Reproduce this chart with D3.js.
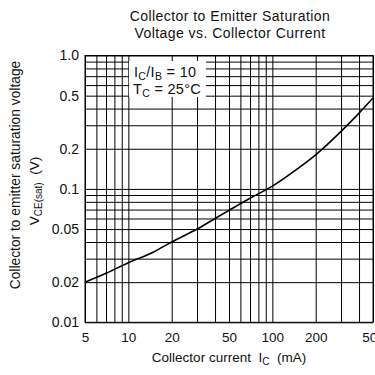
<!DOCTYPE html>
<html>
<head>
<meta charset="utf-8">
<script src="https://cdn.jsdelivr.net/npm/d3@7"></script>
<style>
  body { margin: 0; background: #fff; }
  svg { display: block; font-family: "Liberation Sans", Arial, sans-serif; }
</style>
</head>
<body>
<div id="chart"></div>
<script>
// collector current (mA) and V_CE(sat) (V)
const currentMA = [5, 7, 10, 15, 20, 30, 40, 50, 70, 100, 150, 200, 300, 400, 500];
const vceSat = [0.020, 0.0233, 0.028, 0.0337, 0.040, 0.050, 0.060, 0.069, 0.085, 0.105, 0.142, 0.18, 0.27, 0.37, 0.48];

const xGrid = [5, 6, 7, 8, 9, 10, 20, 30, 40, 50, 60, 70, 80, 90, 100, 200, 300, 400, 500];
const xTickLabels = [5, 10, 20, 50, 100, 200, 500];
const yGrid = [0.01, 0.02, 0.03, 0.04, 0.05, 0.06, 0.07, 0.08, 0.09, 0.1,
               0.2, 0.3, 0.4, 0.5, 0.6, 0.7, 0.8, 0.9, 1.0];
const yTickLabels = [0.01, 0.02, 0.05, 0.1, 0.2, 0.5, 1.0];

const W = 375, H = 375;
const margin = {top: 55.5, right: 2, bottom: 52.7, left: 85};
const width = W - margin.left - margin.right;
const height = H - margin.top - margin.bottom;
const ink = '#111';

const svg = d3.select('#chart').append('svg')
  .attr('width', W)
  .attr('height', H);

// title
const title = svg.append('text')
  .attr('text-anchor', 'middle')
  .attr('font-size', 14)
  .attr('letter-spacing', 0.45)
  .attr('fill', ink);
title.append('tspan').attr('x', 230).attr('y', 21).text('Collector to Emitter Saturation');
title.append('tspan').attr('x', 230).attr('y', 38).text('Voltage vs. Collector Current');

const g = svg.append('g')
  .attr('transform', `translate(${margin.left},${margin.top})`);

const x = d3.scaleLog().domain([5, 500]).range([0, width]);
const y = d3.scaleLog().domain([0.01, 1.0]).range([height, 0]);

// grid lines
g.append('g')
  .attr('class', 'grid-x')
  .attr('transform', `translate(0,${height})`)
  .call(d3.axisBottom(x).tickValues(xGrid).tickSize(-height).tickFormat(''))
  .call(s => s.select('.domain').remove())
  .selectAll('line').attr('stroke', '#000');

g.append('g')
  .attr('class', 'grid-y')
  .call(d3.axisLeft(y).tickValues(yGrid).tickSize(-width).tickFormat(''))
  .call(s => s.select('.domain').remove())
  .selectAll('line').attr('stroke', '#000');

// frame
g.append('rect')
  .attr('width', width).attr('height', height)
  .attr('fill', 'none').attr('stroke', '#000');

// tick labels
g.append('g')
  .attr('transform', `translate(0,${height})`)
  .call(d3.axisBottom(x).tickValues(xTickLabels).tickSize(0).tickPadding(10)
    .tickFormat(d3.format('d')))
  .call(s => s.select('.domain').remove())
  .selectAll('text')
  .attr('font-size', 13.5).attr('font-family', '"Liberation Sans", Arial, sans-serif').attr('fill', ink);

g.append('g')
  .call(d3.axisLeft(y).tickValues(yTickLabels).tickSize(0).tickPadding(6)
    .tickFormat(d => d === 1 ? '1.0' : String(d)))
  .call(s => s.select('.domain').remove())
  .selectAll('text')
  .attr('font-size', 14).attr('font-family', '"Liberation Sans", Arial, sans-serif').attr('fill', ink);

// curve
const line = d3.line()
  .x((d, i) => x(currentMA[i]))
  .y(d => y(d))
  .curve(d3.curveMonotoneX);

g.append('path')
  .datum(vceSat)
  .attr('fill', 'none')
  .attr('stroke', '#000')
  .attr('stroke-width', 1.6)
  .attr('d', line);

// condition box
g.append('rect')
  .attr('x', 129 - margin.left).attr('y', 61 - margin.top)
  .attr('width', 77).attr('height', 36)
  .attr('fill', '#fff');

const cond1 = g.append('text')
  .attr('x', 134 - margin.left).attr('y', 77 - margin.top)
  .attr('font-size', 14.5).attr('letter-spacing', 0.3).attr('fill', ink);
cond1.append('tspan').text('I');
cond1.append('tspan').attr('font-size', 10.5).attr('dy', 3).text('C');
cond1.append('tspan').attr('dy', -3).text('/I');
cond1.append('tspan').attr('font-size', 10.5).attr('dy', 3).text('B');
cond1.append('tspan').attr('dy', -3).text(' = 10');

const cond2 = g.append('text')
  .attr('x', 133 - margin.left).attr('y', 94 - margin.top)
  .attr('font-size', 14.5).attr('letter-spacing', 0.3).attr('fill', ink);
cond2.append('tspan').text('T');
cond2.append('tspan').attr('font-size', 10.5).attr('dy', 3).text('C');
cond2.append('tspan').attr('dy', -3).text(' = 25°C');

// x axis title
const xt = svg.append('text')
  .attr('x', 229).attr('y', 362)
  .attr('text-anchor', 'middle')
  .attr('font-size', 13.5).attr('fill', ink)
  .attr('xml:space', 'preserve');
xt.append('tspan').text('Collector current  I');
xt.append('tspan').attr('font-size', 10).attr('dy', 3).text('C');
xt.append('tspan').attr('dy', -3).text('  (mA)');

// y axis title
svg.append('text')
  .attr('transform', 'translate(20,175) rotate(-90)')
  .attr('text-anchor', 'middle')
  .attr('font-size', 13.8).attr('fill', ink)
  .text('Collector to emitter saturation voltage');

const yt2 = svg.append('text')
  .attr('transform', 'translate(39,191) rotate(-90)')
  .attr('text-anchor', 'middle')
  .attr('font-size', 13.5).attr('fill', ink)
  .attr('xml:space', 'preserve');
yt2.append('tspan').text('V');
yt2.append('tspan').attr('font-size', 10).attr('dy', 3).text('CE(sat)');
yt2.append('tspan').attr('dy', -3).text('  (V)');
</script>
</body>
</html>
